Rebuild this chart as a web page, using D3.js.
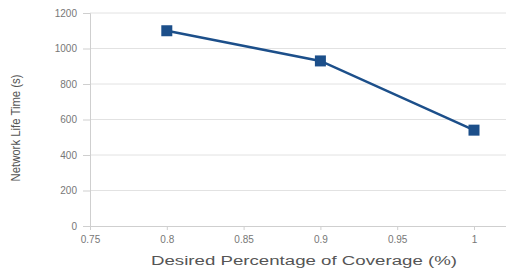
<!DOCTYPE html>
<html>
<head>
<meta charset="utf-8">
<script src="https://cdn.jsdelivr.net/npm/d3@7"></script>
<style>
  body { margin: 0; background: #fff; }
  svg { display: block; font-family: "Liberation Sans", Arial, sans-serif; }
</style>
</head>
<body>
<div id="chart"></div>
<script>
// coverage (x) vs network life time (y)
const coverage = [0.8, 0.9, 1.0];
const lifeTime = [1100, 930, 540];
const xTicks = [0.75, 0.8, 0.85, 0.9, 0.95, 1];
const yTicks = [0, 200, 400, 600, 800, 1000, 1200];

const W = 509, H = 268;
const X0 = 90, X1 = 474, GRID_R = 506;
const Y0 = 226, Y1 = 13;

const svg = d3.select('#chart').append('svg')
  .attr('width', W).attr('height', H);

const x = d3.scaleLinear().domain([0.75, 1.0]).range([X0, X1]);
const y = d3.scaleLinear().domain([0, 1200]).range([Y0, Y1]);

// grid
svg.append('g').selectAll('line')
  .data(yTicks.filter(d => d > 0))
  .join('line')
  .attr('x1', X0).attr('x2', GRID_R)
  .attr('y1', d => y(d)).attr('y2', d => y(d))
  .attr('stroke', '#e2e2e2').attr('stroke-width', 1);

// y axis
svg.append('g').attr('transform', `translate(${X0},0)`)
  .call(d3.axisLeft(y).tickValues(yTicks).tickSize(7).tickPadding(6).tickFormat(d3.format('d')))
  .call(ax => ax.select('.domain').attr('stroke', '#cfcfcf'))
  .call(ax => ax.selectAll('line').attr('stroke', '#cfcfcf'))
  .call(ax => ax.selectAll('text').attr('fill', '#777').attr('font-size', 10));

// x axis
svg.append('g').attr('transform', `translate(0,${Y0})`)
  .call(d3.axisBottom(x).tickValues(xTicks).tickSize(4).tickPadding(6).tickFormat(d => d === 1 ? '1' : String(d)))
  .call(ax => ax.select('.domain').attr('d', `M${X0},0.5H${GRID_R}`).attr('stroke', '#cfcfcf'))
  .call(ax => ax.selectAll('line').attr('stroke', '#cfcfcf'))
  .call(ax => ax.selectAll('text').attr('fill', '#777').attr('font-size', 10));

// axis titles
svg.append('text')
  .attr('x', 304).attr('y', 265)
  .attr('text-anchor', 'middle')
  .attr('fill', '#555').attr('font-size', 12.5)
  .attr('textLength', 306).attr('lengthAdjust', 'spacingAndGlyphs')
  .text('Desired Percentage of Coverage (%)');

svg.append('text')
  .attr('transform', `translate(20,128) rotate(-90)`)
  .attr('text-anchor', 'middle')
  .attr('fill', '#555').attr('font-size', 12)
  .attr('textLength', 107).attr('lengthAdjust', 'spacingAndGlyphs')
  .text('Network Life Time (s)');

// series
const pts = coverage.map((c, i) => ({ c, v: lifeTime[i] }));
const line = d3.line().x(d => x(d.c)).y(d => y(d.v));

svg.append('path')
  .attr('d', line(pts))
  .attr('fill', 'none')
  .attr('stroke', '#1c4f8a')
  .attr('stroke-width', 2.5);

const S = 11;
svg.append('g').selectAll('rect')
  .data(pts)
  .join('rect')
  .attr('x', d => x(d.c) - S / 2)
  .attr('y', d => y(d.v) - S / 2)
  .attr('width', S).attr('height', S)
  .attr('fill', '#1c4f8a');
</script>
</body>
</html>
